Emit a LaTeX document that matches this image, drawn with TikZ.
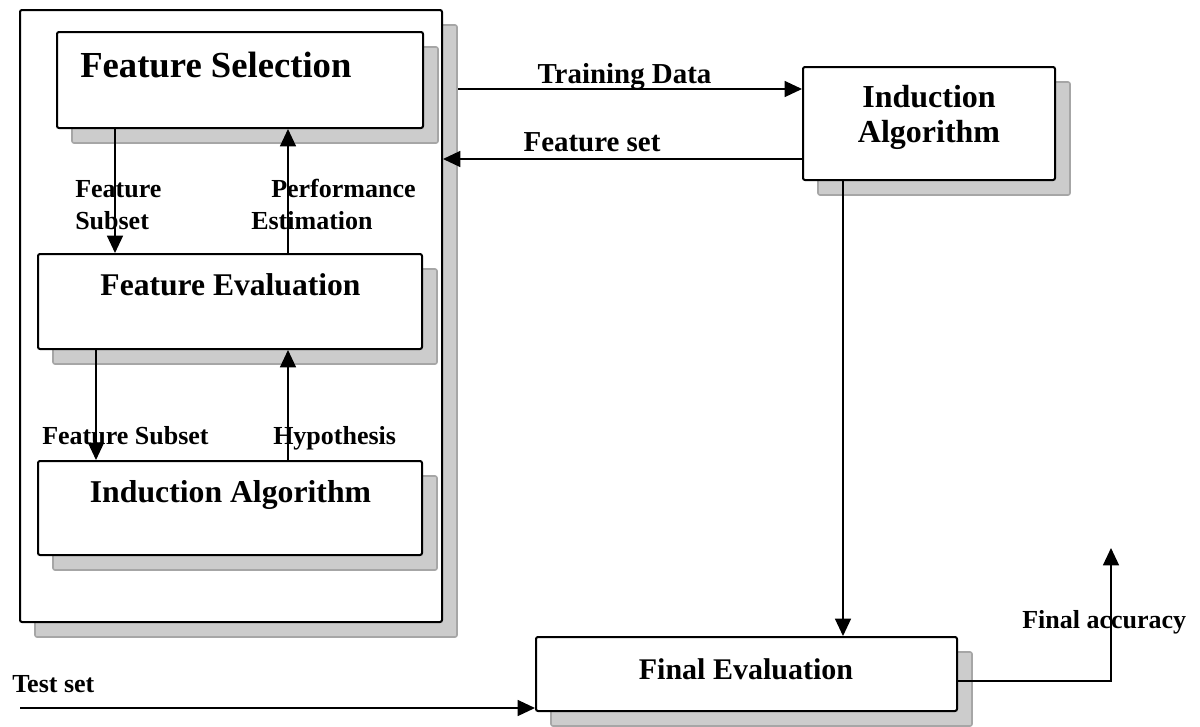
\documentclass[tikz,border=0pt]{standalone}
\usepackage{fontspec}
\setmainfont{Liberation Serif}
\usetikzlibrary{arrows.meta,shadows}
\begin{document}
\begin{tikzpicture}[x=0.75pt,y=-0.75pt,
  box/.style={draw,line width=1.5pt,fill=white,rounded corners=1.5pt,inner sep=0pt,
     drop shadow={shadow xshift=11.25pt,shadow yshift=-11.25pt,fill=gray!40,draw=gray!70,line width=1.2pt,opacity=1}},
  lbl/.style={font=\bfseries\fontsize{19.5}{22}\selectfont,inner sep=0pt,anchor=base west},
  toplbl/.style={font=\bfseries\fontsize{21.7}{24}\selectfont,inner sep=0pt,anchor=base},
  title/.style={font=\bfseries\fontsize{23.8}{27}\selectfont,inner sep=0pt,anchor=base},
  arr/.style={line width=1pt,-{Triangle[length=13pt,width=12pt]}},
  ln/.style={line width=1pt}]
\useasboundingbox (0,0) rectangle (1200,726);
% boxes
\node[box,minimum width=316.5pt,minimum height=459pt] (outer) at (231,316) {};
\node[box,minimum width=274.5pt,minimum height=72pt] (fs) at (240,80) {};
\node[box,minimum width=288pt,minimum height=71.25pt] (fe) at (230,301.5) {};
\node[box,minimum width=288pt,minimum height=70.5pt] (ia) at (230,508) {};
\node[box,minimum width=189pt,minimum height=84.75pt] (ria) at (929,123.5) {};
\node[box,minimum width=315.75pt,minimum height=55.5pt] (fev) at (746.5,674) {};
% box texts
\node[font=\bfseries\fontsize{27.5}{30}\selectfont,inner sep=0pt,anchor=base west] (fst) at (80,77) {Feature Selection};
\node[title,font=\bfseries\fontsize{23.7}{27}\selectfont] (fet) at (230.5,295) {Feature Evaluation};
\node[title] (iat) at (230.5,502) {Induction Algorithm};
\node[title,font=\bfseries\fontsize{24}{27}\selectfont] (riat1) at (929,107) {Induction};
\node[title,font=\bfseries\fontsize{24}{27}\selectfont] (riat2) at (929,142) {Algorithm};
\node[title,font=\bfseries\fontsize{22.5}{26}\selectfont] (fevt) at (746,679) {Final Evaluation};
% labels
\node[lbl] (l1a) at (75,197) {Feature};
\node[lbl] (l1b) at (75,229) {Subset};
\node[lbl] (l2a) at (271,197) {Performance};
\node[lbl] (l2b) at (251,229) {Estimation};
\node[lbl] (l3) at (42,444) {Feature Subset};
\node[lbl] (l4) at (273,444) {Hypothesis};
\node[lbl] (l5) at (12,692) {Test set};
\node[lbl] (l6) at (1022,628) {Final accuracy};
\node[toplbl] (l7) at (624.5,83) {Training Data};
\node[toplbl] (l8) at (592,151) {Feature set};
% helper coordinates
\coordinate (c1) at (115,0);
\coordinate (c2) at (288,0);
\coordinate (c3) at (96,0);
\coordinate (c5) at (0,89);
\coordinate (c6) at (0,159);
\coordinate (c7) at (843,0);
\coordinate (c8) at (0,681);
\coordinate (oshadow) at ([xshift=11.25pt]outer.east);
\coordinate (tsstart) at (20,708);
\coordinate (acc) at (1111,548);
% connectors
\draw[arr] (fs.south -| c1) -- (fe.north -| c1);
\draw[arr] (fe.north -| c2) -- (fs.south -| c2);
\draw[arr] (fe.south -| c3) -- (ia.north -| c3);
\draw[arr] (ia.north -| c2) -- (fe.south -| c2);
\draw[arr] (oshadow |- c5) -- (ria.west |- c5);
\draw[arr] (ria.west |- c6) -- (outer.east |- c6);
\draw[arr] (ria.south -| c7) -- (fev.north -| c7);
\draw[arr] (tsstart) -- (fev.west |- tsstart);
\draw[arr] (fev.east |- c8) -- (acc |- c8) -- (acc);
\end{tikzpicture}
\end{document}
